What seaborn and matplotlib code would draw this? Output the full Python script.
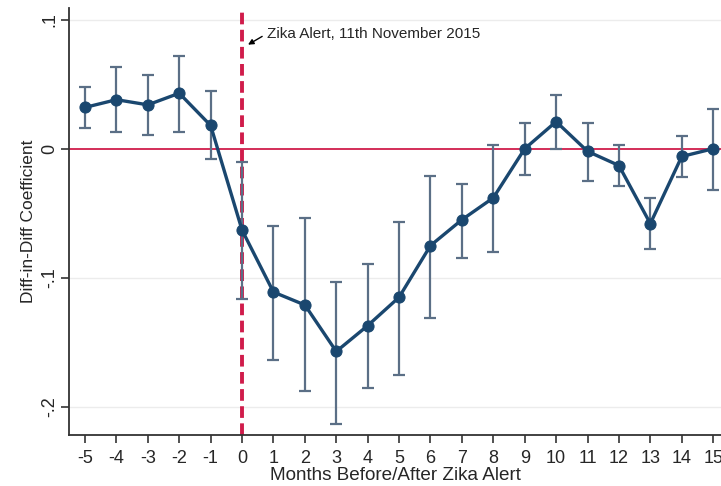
import matplotlib
matplotlib.use("Agg")
import matplotlib.pyplot as plt
import seaborn as sns
import pandas as pd

# Event-study coefficients and 95% confidence bounds
months = [-5, -4, -3, -2, -1, 0, 1, 2, 3, 4, 5, 6, 7, 8, 9, 10, 11, 12, 13, 14, 15]
coef = [0.032, 0.038, 0.034, 0.043, 0.018, -0.063, -0.111, -0.121, -0.157, -0.137,
        -0.115, -0.075, -0.055, -0.038, 0.000, 0.021, -0.002, -0.013, -0.058, -0.006, 0.000]
ci_low = [0.016, 0.013, 0.011, 0.013, -0.008, -0.116, -0.164, -0.188, -0.213, -0.185,
          -0.175, -0.131, -0.085, -0.080, -0.020, 0.000, -0.025, -0.029, -0.078, -0.022, -0.032]
ci_high = [0.048, 0.063, 0.057, 0.072, 0.045, -0.010, -0.060, -0.054, -0.103, -0.089,
           -0.057, -0.021, -0.027, 0.003, 0.020, 0.042, 0.020, 0.003, -0.038, 0.010, 0.031]
yticks = [-0.2, -0.1, 0.0, 0.1]
ytick_labels = ["-.2", "-.1", "0", ".1"]
alert_text = "Zika Alert, 11th November 2015"

df = pd.DataFrame({"month": months, "coef": coef, "lo": ci_low, "hi": ci_high})

sns.set_style("white")
plt.rcParams["font.family"] = ["Liberation Sans", "DejaVu Sans"]

fig = plt.figure(figsize=(7.21, 4.86), dpi=100)
ax = fig.add_axes([69 / 721, 1 - 435 / 486, (721 - 69) / 721, (435 - 8) / 486])

navy = "#1a476f"
bar_col = "#5b6f86"
red = "#d01c4b"

# light horizontal grid
for v in yticks:
    if v != 0:
        ax.axhline(v, color="#ececec", lw=1.0, zorder=0)
ax.axhline(0, color=red, lw=1.3, zorder=1)
ax.axvline(0, color=red, lw=2.8, ls=(0, (3.0, 1.4)), zorder=2)

ax.errorbar(df["month"], df["coef"],
            yerr=[df["coef"] - df["lo"], df["hi"] - df["coef"]],
            fmt="none", ecolor=bar_col, elinewidth=1.6, capsize=4, capthick=1.6, zorder=3)
sns.lineplot(data=df, x="month", y="coef", ax=ax, color=navy, lw=2.4,
             marker="o", markersize=8, markeredgecolor=navy, zorder=4)

ax.set_xlim(-5.51, 15.25)
ax.set_ylim(-0.2217, 0.109)
ax.set_xticks(months)
ax.set_xticklabels([str(m) for m in months], fontsize=13)
ax.set_yticks(yticks)
ax.set_yticklabels(ytick_labels, fontsize=13, rotation=90, va="center")
ax.tick_params(axis="x", direction="out", length=6, width=1.2, color="#333333",
               bottom=True, pad=4.5)
ax.tick_params(axis="y", direction="out", length=6, width=1.2, color="#333333",
               left=True, pad=1.5)
ax.set_xlabel("Months Before/After Zika Alert", fontsize=13.6, va="center")
ax.xaxis.set_label_coords(0.5, (435 - 475) / 427)
ax.set_ylabel("Diff-in-Diff Coefficient", fontsize=12.5, va="center")
ax.yaxis.set_label_coords((29 - 69) / 652, 0.5)

for s in ["top", "right"]:
    ax.spines[s].set_visible(False)
for s in ["left", "bottom"]:
    ax.spines[s].set_color("#333333")
    ax.spines[s].set_linewidth(1.3)

ax.text(0.8, 0.0885, alert_text, fontsize=11, va="center", ha="left")
ax.annotate("", xy=(0.19, 0.0806), xytext=(0.64, 0.087),
            arrowprops=dict(arrowstyle="-|>", color="black", lw=1.0,
                            mutation_scale=8, shrinkA=0, shrinkB=0))

fig.savefig("out.png", dpi=100)
